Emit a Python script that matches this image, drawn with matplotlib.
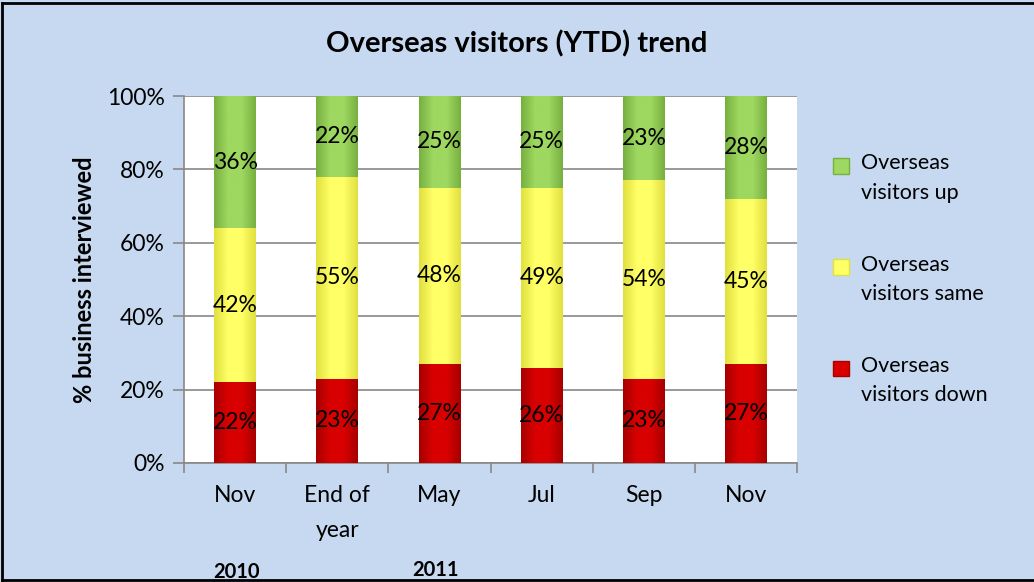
import numpy as np
import matplotlib
matplotlib.use("Agg")
import matplotlib.pyplot as plt
from matplotlib.patches import Patch
from matplotlib.lines import Line2D
from matplotlib.colors import LinearSegmentedColormap

plt.rcParams['font.family'] = ['Lato', 'DejaVu Sans']

# data
categories = ["Nov", "End of\nyear", "May", "Jul", "Sep", "Nov"]
down = [22, 23, 27, 26, 23, 27]
same = [42, 55, 48, 49, 54, 45]
up = [36, 22, 25, 25, 23, 28]
series_names = ["Overseas\nvisitors up", "Overseas\nvisitors same", "Overseas\nvisitors down"]
years = ["2010", "2011"]

bg = "#C6D9F0"
edge_mid = {
    "down": ("#A80000", "#D80000"),
    "same": ("#E0E040", "#FFFF66"),
    "up": ("#78B040", "#9ED860"),
}

fig = plt.figure(figsize=(10.34, 5.82), dpi=100, facecolor=bg)
ax = fig.add_axes([0.178, 0.2045, 0.593, 0.6305])
ax.set_facecolor("white")

x = np.arange(len(categories))
w = 0.41

def grad_bars(vals, bottom, key):
    dark, light = edge_mid[key]
    cmap = LinearSegmentedColormap.from_list(key, [dark, light, light, dark])
    bars = ax.bar(x, vals, w, bottom=bottom, color=light, edgecolor="none", zorder=3)
    g = np.linspace(0, 1, 64).reshape(1, -1)
    for b in bars:
        x0, y0 = b.get_x(), b.get_y()
        im = ax.imshow(g, cmap=cmap, aspect="auto", zorder=3.5,
                       extent=[x0, x0 + b.get_width(), y0, y0 + b.get_height()])
        im.set_clip_path(b)
    return bars

b1 = grad_bars(down, 0, "down")
bot2 = np.array(down)
b2 = grad_bars(same, bot2, "same")
bot3 = bot2 + np.array(same)
b3 = grad_bars(up, bot3, "up")

for vals, bottoms in [(down, np.zeros(6)), (same, bot2), (up, bot3)]:
    for i, v in enumerate(vals):
        ax.text(x[i], bottoms[i] + v / 2, f"{v}%", ha="center", va="center",
                fontsize=16.5, zorder=5)

ax.set_xlim(-0.5, 5.5)
ax.set_ylim(0, 100)
ax.set_yticks(range(0, 101, 20))
ax.set_yticklabels([f"{t}%" for t in range(0, 101, 20)], fontsize=16.5)
ax.yaxis.grid(True, color="#888888", linewidth=1.2, zorder=0)
ax.set_axisbelow(True)
ax.set_xticks(x)
ax.set_xticklabels(categories, fontsize=16.5, linespacing=1.8)
ax.set_xticks(np.arange(-0.5, 6, 1), minor=True)
ax.tick_params(axis="x", which="major", length=0, pad=16)
ax.tick_params(axis="x", which="minor", length=7, color="#888888", width=1.2)
ax.tick_params(axis="y", length=8, color="#888888", width=1.2, pad=6)
for s in ["top", "right"]:
    ax.spines[s].set_visible(False)
ax.spines["left"].set_color("#888888")
ax.spines["bottom"].set_color("#888888")
ax.spines["left"].set_linewidth(1.2)
ax.spines["bottom"].set_linewidth(1.2)

ax.set_ylabel("% business interviewed", fontsize=17, fontweight="bold", labelpad=8)
fig.text(0.5, 0.925, "Overseas visitors (YTD) trend", ha="center", va="center",
         fontsize=21, fontweight="bold")

handles = [Patch(facecolor=edge_mid["up"][1], edgecolor=edge_mid["up"][0]),
           Patch(facecolor=edge_mid["same"][1], edgecolor=edge_mid["same"][0]),
           Patch(facecolor=edge_mid["down"][1], edgecolor=edge_mid["down"][0])]
leg = fig.legend(handles, series_names, loc="upper left", bbox_to_anchor=(0.787, 0.77),
                 frameon=False, fontsize=15.5, handlelength=0.75, handleheight=0.75,
                 handletextpad=0.55, labelspacing=2.4)
for t in leg.get_texts():
    t.set_linespacing(1.6)
for h in leg.legend_handles:
    h.set_y(h.get_y() + 9)

fig.text(0.229, 0.017, years[0], ha="center", va="center", fontsize=14.5, fontweight="bold")
fig.text(0.421, 0.02, years[1], ha="center", va="center", fontsize=14.5, fontweight="bold")

# border on top, left and bottom
border = dict(transform=fig.transFigure, color="black", linewidth=2)
fig.lines.append(Line2D([0.002, 1.0], [0.995, 0.995], **border))
fig.lines.append(Line2D([0.002, 0.002], [0.003, 0.995], **border))
fig.lines.append(Line2D([0.002, 1.0], [0.003, 0.003], **border))

fig.savefig("out.png", dpi=100, facecolor=bg)
